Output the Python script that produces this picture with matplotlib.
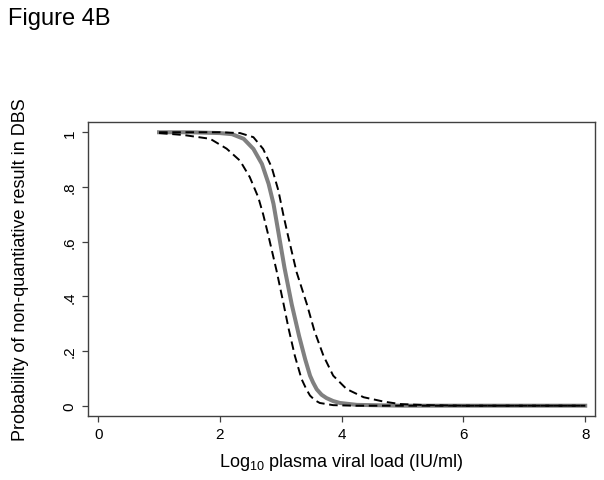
import matplotlib
matplotlib.use('Agg')
import matplotlib.pyplot as plt

plt.rcParams['font.family'] = ['Liberation Sans', 'DejaVu Sans']

# predicted probability (grey) and confidence limits (dashed)
x_fit = [1, 1.5, 2.0, 2.2, 2.39, 2.55, 2.69, 2.80, 2.88, 2.96, 3.06, 3.18, 3.30,
         3.40, 3.48, 3.53, 3.59, 3.67, 3.75, 3.86, 3.97, 4.25, 5, 6, 7, 8]
y_fit = [1, 1, 0.997, 0.993, 0.976, 0.939, 0.884, 0.811, 0.738, 0.635, 0.505, 0.37,
         0.255, 0.17, 0.110, 0.085, 0.06, 0.04, 0.028, 0.017, 0.010, 0.003, 0, 0, 0, 0]

x_lo = [1, 1.4, 1.84, 2.11, 2.33, 2.49, 2.63, 2.71, 2.79, 2.93, 3.04, 3.13, 3.23,
        3.34, 3.42, 3.48, 3.56, 3.64, 3.86, 4.2, 5, 6, 7, 8]
y_lo = [0.997, 0.99, 0.976, 0.94, 0.896, 0.836, 0.762, 0.70, 0.628, 0.494, 0.378,
        0.28, 0.183, 0.098, 0.06, 0.037, 0.02, 0.010, 0.002, 0, 0, 0, 0, 0]

x_hi = [1, 2.0, 2.33, 2.55, 2.71, 2.85, 2.96, 3.04, 3.12, 3.26, 3.43, 3.55, 3.70,
        3.86, 4.08, 4.36, 4.69, 4.96, 5.4, 6, 7, 8]
y_hi = [1, 1, 0.997, 0.982, 0.939, 0.872, 0.787, 0.70, 0.62, 0.488, 0.37, 0.275,
        0.183, 0.110, 0.061, 0.031, 0.015, 0.006, 0.002, 0, 0, 0]

xticks = [0, 2, 4, 6, 8]
yticks = [0, 0.2, 0.4, 0.6, 0.8, 1]
ytick_labels = ['0', '.2', '.4', '.6', '.8', '1']

fig = plt.figure(figsize=(6.04, 4.81), dpi=100)
ax = fig.add_axes([0.146, 0.134, 0.839, 0.610])

ax.plot(x_fit, y_fit, color='#808080', lw=2.9, solid_joinstyle='round', zorder=2)
ax.plot(x_lo, y_lo, color='black', lw=1.4, dashes=(4.4, 2.4), zorder=3)
ax.plot(x_hi, y_hi, color='black', lw=1.4, dashes=(4.4, 2.4), zorder=3)

ax.set_xlim(-0.164, 8.16)
ax.set_ylim(-0.036, 1.037)
ax.set_xticks(xticks)
ax.set_xticklabels([str(t) for t in xticks])
ax.set_yticks(yticks)
ax.set_yticklabels(ytick_labels, rotation=90, va='center')

for s in ax.spines.values():
    s.set_color('#404040')
    s.set_linewidth(1.0)
ax.tick_params(colors='#404040', labelcolor='black', length=4.5, width=0.9,
               labelsize=11, pad=4)

ax.set_xlabel(r'Log$_{\mathregular{10}}$ plasma viral load (IU/ml)', fontsize=13, labelpad=7)
ax.set_ylabel('Probability of non-quantiative result in DBS', fontsize=13, labelpad=24)

fig.text(0.013, 0.947, 'Figure 4B', fontsize=17, ha='left', va='baseline')

fig.savefig('out.png', dpi=100)
